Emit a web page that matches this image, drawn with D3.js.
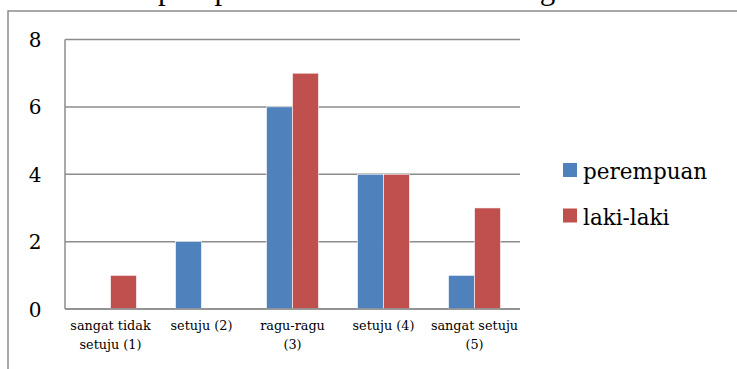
<!DOCTYPE html>
<html><head><meta charset="utf-8">
<script src="https://cdn.jsdelivr.net/npm/d3@7"></script>
<style>html,body{margin:0;padding:0;background:#fff;overflow:hidden}</style>
</head><body>
<svg id="c" width="737" height="369"></svg>
<script>
const categories = [["sangat tidak","setuju (1)"],["setuju (2)"],["ragu-ragu","(3)"],["setuju (4)"],["sangat setuju","(5)"]];
const seriesNames = ["perempuan","laki-laki"];
const perempuan = [0,2,6,4,1];
const lakiLaki = [1,0,7,4,3];
const yTicks = [0,2,4,6,8];
const colors = ["#4F81BD","#C0504D"];
const topText = "ita the perspective status of learning the semester of";

const svg = d3.select("#c");
const font = "DejaVu Serif";

// cut-off body text above the figure (only its lower edge is visible)
svg.append("text").attr("x", 64).attr("y", -1.5).attr("font-family","Liberation Serif")
  .attr("font-size", 31).attr("letter-spacing", 1.2).attr("fill","#000").text(topText);

// outer frame
svg.append("path").attr("d","M8,370 L8,11 L740,11").attr("fill","none")
  .attr("stroke","#8c8c8c").attr("stroke-width",1.5);

const x0 = d3.scaleBand().domain(d3.range(categories.length)).range([65,520]);
const x1 = d3.scaleBand().domain(d3.range(seriesNames.length)).range([0, x0.bandwidth()]).paddingInner(0).paddingOuter(0.75);
const y = d3.scaleLinear().domain([0,8]).range([309,39.5]);

const grid = svg.append("g");
grid.selectAll("line").data(yTicks).join("line")
  .attr("x1",65).attr("x2",520).attr("y1",d=>y(d)).attr("y2",d=>y(d))
  .attr("stroke","#8c8c8c").attr("stroke-width",1.5);
grid.append("line").attr("x1",65).attr("x2",65).attr("y1",y(8)).attr("y2",y(0))
  .attr("stroke","#8c8c8c").attr("stroke-width",1.5);

const yAxis = d3.axisLeft(y).tickValues(yTicks).tickSize(0).tickPadding(0);
const ya = svg.append("g").attr("transform","translate(35,0)").call(yAxis);
ya.select(".domain").remove();
ya.selectAll("text").attr("font-family",font).attr("font-size",20).attr("fill","#000")
  .attr("text-anchor","middle").attr("dy","0.35em");

const data = [perempuan, lakiLaki];
const groups = svg.append("g").selectAll("g").data(categories.map((c,i)=>i)).join("g")
  .attr("transform", i=>`translate(${x0(i)},0)`);
groups.selectAll("rect").data(i=>data.map((s,k)=>({k, v:s[i]})).filter(d=>d.v>0)).join("rect")
  .attr("x", d=>x1(d.k)).attr("width", x1.bandwidth())
  .attr("y", d=>y(d.v)).attr("height", d=>y(0)-y(d.v))
  .attr("fill", d=>colors[d.k]).attr("stroke","#fff").attr("stroke-width",0.6);

// redraw baseline on top
svg.append("line").attr("x1",65).attr("x2",520).attr("y1",y(0)).attr("y2",y(0))
  .attr("stroke","#8c8c8c").attr("stroke-width",1.5);

// x labels
const xl = svg.append("g");
categories.forEach((lines,i)=>{
  const t = xl.append("text").attr("x", x0(i)+x0.bandwidth()/2).attr("y",330)
    .attr("text-anchor","middle").attr("font-family",font).attr("font-size",12.8).attr("fill","#000");
  lines.forEach((l,j)=>t.append("tspan").attr("x", x0(i)+x0.bandwidth()/2).attr("dy", j?19:0).text(l));
});

// legend
const lg = svg.append("g");
seriesNames.forEach((n,k)=>{
  const yy = 163 + k*45.5;
  lg.append("rect").attr("x",563).attr("y",yy).attr("width",14).attr("height",14).attr("fill",colors[k]);
  lg.append("text").attr("x",583).attr("y",yy+16).attr("font-family",font).attr("font-size",21.5)
    .attr("fill","#000").text(n);
});
</script>
</body></html>
